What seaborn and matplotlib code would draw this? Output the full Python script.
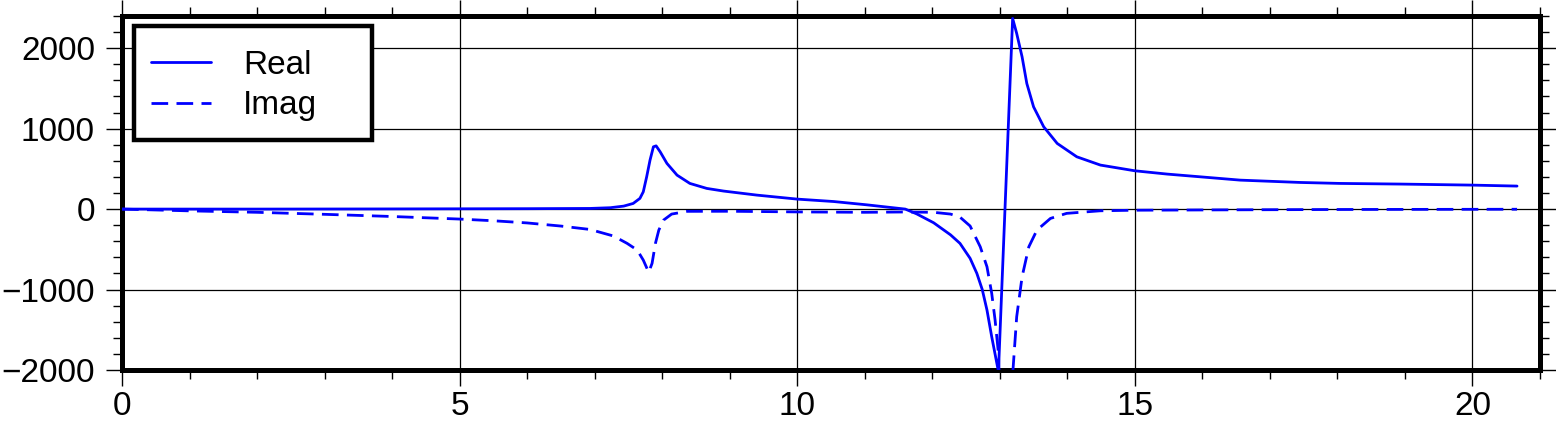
import numpy as np
import pandas as pd
import matplotlib
matplotlib.use("Agg")
import matplotlib.pyplot as plt
from matplotlib.patches import Rectangle
import seaborn as sns

# ---- data ----
real_x = [0, 2, 4, 6, 6.93, 7.23, 7.43, 7.57, 7.67, 7.72, 7.77, 7.82, 7.87, 7.91, 7.97,
          8.07, 8.22, 8.41, 8.66, 8.91, 9.40, 10.0, 10.54, 11.03, 11.33, 11.6, 11.77,
          12.02, 12.27, 12.41, 12.56, 12.66, 12.74, 12.81, 12.88, 12.98, 13.19, 13.25,
          13.33, 13.40, 13.50, 13.65, 13.85, 14.14, 14.49, 15.0, 15.48, 15.97, 16.56,
          17.45, 18.04, 18.93, 20.0, 20.66]
real_y = [0, 0, 2, 5, 8, 17, 37, 70, 133, 215, 401, 609, 774, 786, 712,
          568, 422, 319, 257, 224, 174, 124, 94, 53, 25, 0, -60,
          -170, -320, -426, -612, -799, -1000, -1255, -1586, -2020, 2370, 2183,
          1892, 1561, 1271, 1023, 816, 650, 547, 476, 435, 401, 360,
          331, 319, 311, 298, 286]

imag_x = [0, 1, 2, 3, 4, 5, 5.5, 6, 6.5, 6.93, 7.28, 7.48, 7.63, 7.72, 7.80, 7.85, 7.90,
          7.95, 8.02, 8.14, 8.37, 9.0, 10.0, 11.0, 11.57, 12.02, 12.27, 12.41, 12.56,
          12.71, 12.81, 12.88, 12.93, 12.98, 13.08, 13.19, 13.25, 13.33, 13.43, 13.55,
          13.75, 13.99, 14.49, 15.0, 16.5, 18.0, 20.66]
imag_y = [0, -22, -40, -65, -92, -124, -145, -172, -211, -253, -335, -426, -509, -634,
          -785, -675, -426, -261, -137, -62, -28, -27, -35, -40, -36, -40, -62, -100, -210,
          -468, -717, -1047, -1379, -1793, -4300, -2060, -1338, -841, -468, -261,
          -116, -53, -21, -14, -9, -5, -2]

x_ticks = [0, 5, 10, 15, 20]
y_ticks = [-2000, -1000, 0, 1000, 2000]
series_names = ["Real", "Imag"]

sns.set_theme(style="ticks")
plt.rcParams["font.family"] = ["Liberation Sans", "DejaVu Sans"]
for k in ["text.color", "axes.labelcolor", "xtick.color", "ytick.color", "axes.edgecolor"]:
    plt.rcParams[k] = "black"

W, H = 1556, 421
AX_L, AX_R, AX_T, AX_B = 122, 1540, 16, 370
fig = plt.figure(figsize=(W / 100, H / 100), dpi=100)
ax = fig.add_axes([AX_L / W, 1 - AX_B / H, (AX_R - AX_L) / W, (AX_B - AX_T) / H])

def ax_frac(px, py):
    return (px - AX_L) / (AX_R - AX_L), (AX_B - py) / (AX_B - AX_T)

df_real = pd.DataFrame({"x": real_x, "y": real_y})
df_imag = pd.DataFrame({"x": imag_x, "y": imag_y})

sns.lineplot(data=df_real, x="x", y="y", ax=ax, color="#0000ff", lw=2.0,
             label=series_names[0], sort=False, zorder=3)
sns.lineplot(data=df_imag, x="x", y="y", ax=ax, color="#0000ff", lw=2.0,
             label=series_names[1], sort=False, zorder=3)
ax.lines[1].set_dashes((6, 3))

ax.set_xlim(0, 21)
ax.set_ylim(-2000, 2400)
ax.set_xticks(x_ticks)
ax.set_yticks(y_ticks)
ax.set_yticklabels([str(v).replace("-", "\u2212") for v in y_ticks])
ax.set_xticks(np.arange(0, 21.01, 1), minor=True)
ax.set_yticks(np.arange(-2000, 2401, 200), minor=True)
ax.set_xlabel("")
ax.set_ylabel("")

ax.grid(True, which="major", color="black", lw=0.9, zorder=1)
ax.set_axisbelow(True)

for s in ax.spines.values():
    s.set_linewidth(3.6)
    s.set_color("black")
    s.set_visible(True)

ax.tick_params(which="both", direction="out", top=True, right=True,
               labeltop=False, labelright=False, color="black")
ax.tick_params(which="major", length=11.5, width=1.0, labelsize=24,
               labelcolor="black")
ax.tick_params(which="minor", length=6.5, width=1.0)
ax.tick_params(axis="x", which="major", pad=3.5)
ax.tick_params(axis="y", which="major", pad=8)

# legend box (drawn as a patch) and legend entries
bx0, by0 = ax_frac(134, 140)
bx1, by1 = ax_frac(372, 26)
ax.add_patch(Rectangle((bx0, by0), bx1 - bx0, by1 - by0, transform=ax.transAxes,
                       facecolor="white", edgecolor="black", lw=3.2, zorder=5,
                       joinstyle="miter"))
lx, ly = ax_frac(151, 50)
leg = ax.legend(loc="upper left", bbox_to_anchor=(lx, ly), fontsize=24,
                frameon=False, handlelength=1.8, handletextpad=0.97,
                borderpad=0, labelspacing=0.28, borderaxespad=0)
leg.set_zorder(6)
for h in leg.get_lines():
    h.set_linewidth(2.0)
leg.get_lines()[1].set_dashes((6, 3))

fig.savefig("out.png", dpi=100, facecolor="white")
